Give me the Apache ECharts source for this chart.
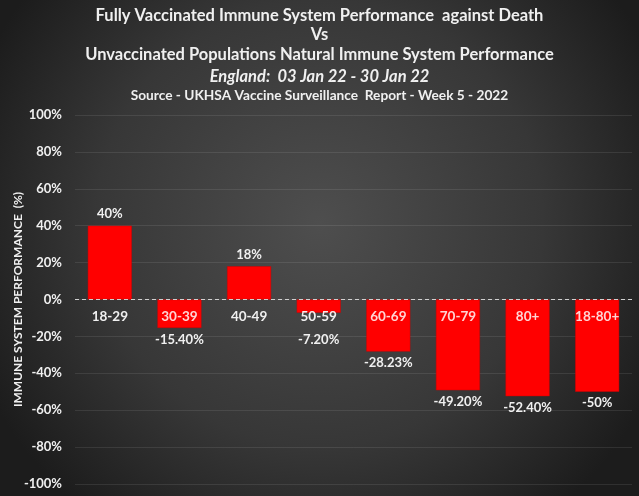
<!DOCTYPE html>
<html>
<head>
<meta charset="utf-8">
<script src="https://cdn.jsdelivr.net/npm/echarts@6/dist/echarts.min.js"></script>
<style>
  html, body { margin: 0; padding: 0; background: #222; }
  #chart { width: 639px; height: 496px; }
</style>
</head>
<body>
<div id="chart"></div>
<script>
// Rendimiento inmune vacunados vs no vacunados, por grupo de edad
const AGE_GROUPS   = ['18-29', '30-39', '40-49', '50-59', '60-69', '70-79', '80+', '18-80+'];
const PERFORMANCE  = [40, -15.4, 18, -7.2, -28.23, -49.2, -52.4, -50];
const VALUE_LABELS = ['40%', '-15.40%', '18%', '-7.20%', '-28.23%', '-49.20%', '-52.40%', '-50%'];

const TITLE_LINES = [
  'Fully Vaccinated Immune System Performance  against Death',
  'Vs',
  'Unvaccinated Populations Natural Immune System Performance',
  'England:  03 Jan 22 - 30 Jan 22',
  'Source - UKHSA Vaccine Surveillance  Report - Week 5 - 2022',
];

const FONT = 'Lato, "Open Sans", sans-serif';
const TEXT = '#f0f0f0';

const GRID_TOP = 115, GRID_BOTTOM = 12, H = 496;
const Y_MIN = -100, Y_MAX = 100;

const chart = echarts.init(document.getElementById('chart'), null, { renderer: 'canvas' });

const titleTops  = [7, 26, 46, 68, 87];
const titleSizes = [16.5, 16.5, 16.5, 16.5, 13.7];
const titles = TITLE_LINES.map((t, i) => ({
  text: t,
  left: 'center',
  top: titleTops[i],
  padding: 0,
  textStyle: {
    color: TEXT,
    fontFamily: FONT,
    fontWeight: 'bold',
    fontStyle: i === 3 ? 'italic' : 'normal',
    fontSize: titleSizes[i],
    lineHeight: 18,
  },
}));

const plotH = H - GRID_TOP - GRID_BOTTOM;
const pxPerUnit = plotH / (Y_MAX - Y_MIN);
const zeroFromBottom = plotH * (0 - Y_MIN) / (Y_MAX - Y_MIN);

// las etiquetas negativas quedan por debajo de la etiqueta de categoría
const barData = PERFORMANCE.map((v, i) => ({
  value: v,
  label: {
    show: true,
    position: v >= 0 ? 'top' : 'bottom',
    distance: v >= 0 ? 5 : Math.max(5, 34 - Math.abs(v) * pxPerUnit),
    formatter: () => VALUE_LABELS[i],
  },
}));

chart.setOption({
  animation: false,
  backgroundColor: {
    type: 'radial', x: 0.5, y: 0.45, r: 0.75,
    colorStops: [
      { offset: 0, color: '#4e4e4e' },
      { offset: 0.6, color: '#373737' },
      { offset: 1, color: '#1c1c1c' },
    ],
  },
  title: titles,
  grid: { left: 75, right: 7, top: GRID_TOP, bottom: GRID_BOTTOM, containLabel: false, outerBoundsMode: 'none' },
  xAxis: {
    type: 'category',
    data: AGE_GROUPS,
    z: 10,
    axisLine: { show: false, onZero: false },
    axisTick: { show: false },
    axisLabel: {
      margin: -zeroFromBottom + 10,
      fontFamily: FONT,
      fontWeight: 'bold',
      fontSize: 13.5,
      color: (val, idx) => PERFORMANCE[idx] < -10 ? '#ffd4d4' : TEXT,
    },
  },
  yAxis: {
    type: 'value',
    min: Y_MIN,
    max: Y_MAX,
    interval: 20,
    name: 'IMMUNE SYSTEM PERFORMANCE  (%)',
    nameLocation: 'middle',
    nameRotate: 90,
    nameGap: 51,
    nameMoveOverlap: false,
    nameTextStyle: { color: TEXT, fontFamily: FONT, fontWeight: 'bold', fontSize: 12 },
    axisLine: { show: false },
    axisTick: { show: false },
    axisLabel: {
      margin: 13,
      color: TEXT,
      fontFamily: FONT,
      fontWeight: 'bold',
      fontSize: 13,
      formatter: v => `${v}%`,
    },
    splitLine: { lineStyle: { color: 'rgba(255,255,255,0.09)' } },
  },
  series: [{
    type: 'bar',
    data: barData,
    barWidth: 44,
    itemStyle: { color: '#ff0000', borderColor: '#d00000', borderWidth: 0.5 },
    label: {
      color: TEXT,
      fontFamily: FONT,
      fontWeight: 'bold',
      fontSize: 13,
    },
    markLine: {
      silent: true,
      symbol: 'none',
      label: { show: false },
      lineStyle: { color: '#d0d0d0', type: [4, 3], width: 1 },
      data: [{ yAxis: 0 }],
      z: 3,
    },
  }],
});
</script>
</body>
</html>
